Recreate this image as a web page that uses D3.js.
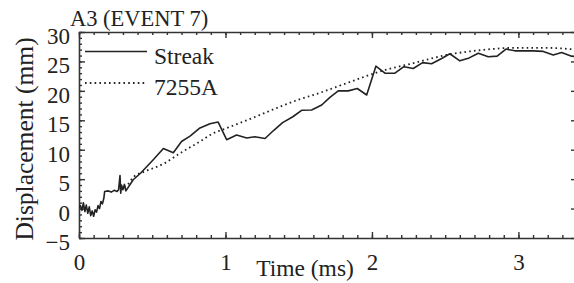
<!DOCTYPE html>
<html>
<head>
<meta charset="utf-8">
<script src="https://cdn.jsdelivr.net/npm/d3@7"></script>
<style>
  body { margin: 0; background: #fff; }
  svg, svg text { font-family: "Liberation Serif", "Times New Roman", "DejaVu Serif", serif !important; }
  .axis path { stroke: #333; stroke-width: 1.6; }
  .axis line { stroke: #333; stroke-width: 1.4; }
  .axis text { fill: #222; }
</style>
</head>
<body>
<script>
const width = 574;
const height = 283;

// Streak camera measurement
const streakTime = [0, 0.01, 0.02, 0.03, 0.04, 0.05, 0.06, 0.07, 0.08, 0.09, 0.10, 0.11, 0.12, 0.13, 0.14,
    0.15, 0.16, 0.17, 0.175, 0.2, 0.22, 0.24, 0.26, 0.27, 0.28, 0.285, 0.29, 0.30, 0.31, 0.32,
    0.37, 0.42, 0.507, 0.576, 0.644, 0.70, 0.758, 0.826, 0.894, 0.95, 1.008, 1.076, 1.145, 1.2,
    1.27, 1.33, 1.39, 1.46, 1.52, 1.588, 1.657, 1.713, 1.77, 1.838, 1.9, 1.964, 2.027, 2.089,
    2.157, 2.218, 2.282, 2.346, 2.407, 2.476, 2.532, 2.6, 2.664, 2.726, 2.794, 2.855, 2.915,
    2.976, 3.044, 3.1, 3.17, 3.238, 3.295, 3.363, 3.4];
const streakDisp = [0.2, 0.5, -0.3, 1.0, -0.5, 0.6, -0.8, 0.3, -1.2, -0.4, -1.3, -0.2, -0.6, 0.5, 0.0,
    1.2, 0.8, 1.8, 2.9, 3.0, 2.8, 3.1, 2.9, 3.2, 5.6, 2.6, 4.0, 3.2, 4.1, 3.0,
    4.9, 6.0, 8.3, 10.2, 9.5, 11.4, 12.3, 13.7, 14.4, 14.7, 11.7, 12.5, 12.0, 12.2,
    11.9, 13.3, 14.6, 15.6, 16.7, 16.75, 17.6, 18.9, 20.0, 20.0, 20.4, 19.3, 24.2, 23.0,
    23.0, 24.1, 23.8, 24.8, 24.6, 25.5, 26.3, 25.1, 25.6, 26.4, 25.8, 25.9, 27.1,
    26.8, 26.8, 26.8, 26.7, 26.1, 26.5, 25.9, 25.8];

// 7255A gauge
const gaugeTime = [0.28, 0.33, 0.37, 0.45, 0.576, 0.69, 0.826, 0.917, 1.0, 1.145, 1.372, 1.51, 1.6,
    1.827, 2.055, 2.282, 2.51, 2.737, 2.965, 3.19, 3.4];
const gaugeDisp = [3.3, 4.0, 5.3, 6.3, 7.6, 9.4, 11.4, 12.8, 13.6, 15.0, 17.3, 18.6, 19.3,
    21.3, 23.3, 24.7, 26.1, 26.9, 27.3, 27.3, 27.0];

const xMajor = [0, 1, 2, 3];
const yMajor = [-5, 0, 5, 10, 15, 20, 25, 30];
const legendNames = ['Streak', '7255A'];

const serif = '"Liberation Serif", "Times New Roman", "DejaVu Serif", serif';
const margin = { left: 79, right: -3, top: 32, bottom: 45 };

const svg = d3.select('body').append('svg').attr('width', width).attr('height', height)
    .attr('font-family', serif);

const x = d3.scaleLinear().domain([0, 3.4]).range([margin.left, width - margin.right]);
const y = d3.scaleLinear().domain([-5, 30]).range([height - margin.bottom, margin.top]);

const xMinor = d3.range(0, 3.41, 0.1).map(v => +v.toFixed(2));
const yMinor = d3.range(-5, 31, 1);

// minor ticks (all four sides, pointing inward)
const minor = svg.append('g').attr('class', 'axis');
minor.append('g').attr('transform', `translate(0,${y(-5)})`)
    .call(d3.axisBottom(x).tickValues(xMinor).tickSize(-3).tickFormat(''));
minor.append('g').attr('transform', `translate(0,${y(30)})`)
    .call(d3.axisTop(x).tickValues(xMinor).tickSize(-3).tickFormat(''));
minor.append('g').attr('transform', `translate(${x(0)},0)`)
    .call(d3.axisLeft(y).tickValues(yMinor).tickSize(-3).tickFormat(''));
minor.append('g').attr('transform', `translate(${x(3.4)},0)`)
    .call(d3.axisRight(y).tickValues(yMinor).tickSize(-3).tickFormat(''));
minor.selectAll('path').remove();

// major axes
const xAxis = svg.append('g').attr('class', 'axis')
    .attr('transform', `translate(0,${y(-5)})`)
    .call(d3.axisBottom(x).tickValues(xMajor).tickSizeInner(-6).tickSizeOuter(0).tickPadding(16).tickFormat(d3.format('d')));
xAxis.attr('font-family', serif);
xAxis.selectAll('text').attr('font-size', 23).attr('dy', '0.71em');

svg.append('g').attr('class', 'axis')
    .attr('transform', `translate(0,${y(30)})`)
    .call(d3.axisTop(x).tickValues(xMajor).tickSizeInner(-6).tickSizeOuter(0).tickFormat(''));

const yAxis = svg.append('g').attr('class', 'axis')
    .attr('transform', `translate(${x(0)},0)`)
    .call(d3.axisLeft(y).tickValues(yMajor).tickSizeInner(-6).tickSizeOuter(0).tickPadding(9).tickFormat(d3.format('d')));
yAxis.attr('font-family', serif);
yAxis.selectAll('text').attr('font-size', 23).attr('dy', '0.5em');

svg.append('g').attr('class', 'axis')
    .attr('transform', `translate(${x(3.4)},0)`)
    .call(d3.axisRight(y).tickValues(yMajor).tickSizeInner(-6).tickSizeOuter(0).tickFormat(''));

// lines
svg.append('clipPath').attr('id', 'clip').append('rect')
    .attr('x', x(0)).attr('y', y(30)).attr('width', x(3.4) - x(0)).attr('height', y(-5) - y(30));

const streak = streakTime.map((t, i) => [t, streakDisp[i]]);
const gauge = gaugeTime.map((t, i) => [t, gaugeDisp[i]]);

const line = d3.line().x(d => x(d[0])).y(d => y(d[1]));
const smooth = d3.line().x(d => x(d[0])).y(d => y(d[1])).curve(d3.curveMonotoneX);

const plot = svg.append('g').attr('clip-path', 'url(#clip)');
plot.append('path').datum(gauge).attr('d', smooth)
    .attr('fill', 'none').attr('stroke', '#222').attr('stroke-width', 1.8)
    .attr('stroke-dasharray', '1.6,3.2');
plot.append('path').datum(streak).attr('d', line)
    .attr('fill', 'none').attr('stroke', '#222').attr('stroke-width', 1.6)
    .attr('stroke-linejoin', 'round');

// legend
const legend = svg.append('g');
legendNames.forEach((name, i) => {
    const ly = 51.5 + i * 31.5;
    legend.append('line').attr('x1', 85).attr('x2', 147).attr('y1', ly).attr('y2', ly)
        .attr('stroke', '#222').attr('stroke-width', i ? 1.8 : 1.6)
        .attr('stroke-dasharray', i ? '1.6,3.2' : null);
    legend.append('text').attr('x', 154).attr('y', ly + 12).attr('font-size', 23.5)
        .attr('fill', '#222').text(name);
});

// titles
svg.append('text').attr('x', 70).attr('y', 26).attr('font-size', 22.5).attr('fill', '#222')
    .text('A3 (EVENT 7)');
svg.append('text').attr('x', 305).attr('y', 276).attr('text-anchor', 'middle')
    .attr('font-size', 23.5).attr('fill', '#222').text('Time (ms)');
svg.append('text').attr('transform', 'translate(33,139) rotate(-90)').attr('text-anchor', 'middle')
    .attr('font-size', 25.5).attr('fill', '#222').text('Displacement (mm)');
</script>
</body>
</html>
